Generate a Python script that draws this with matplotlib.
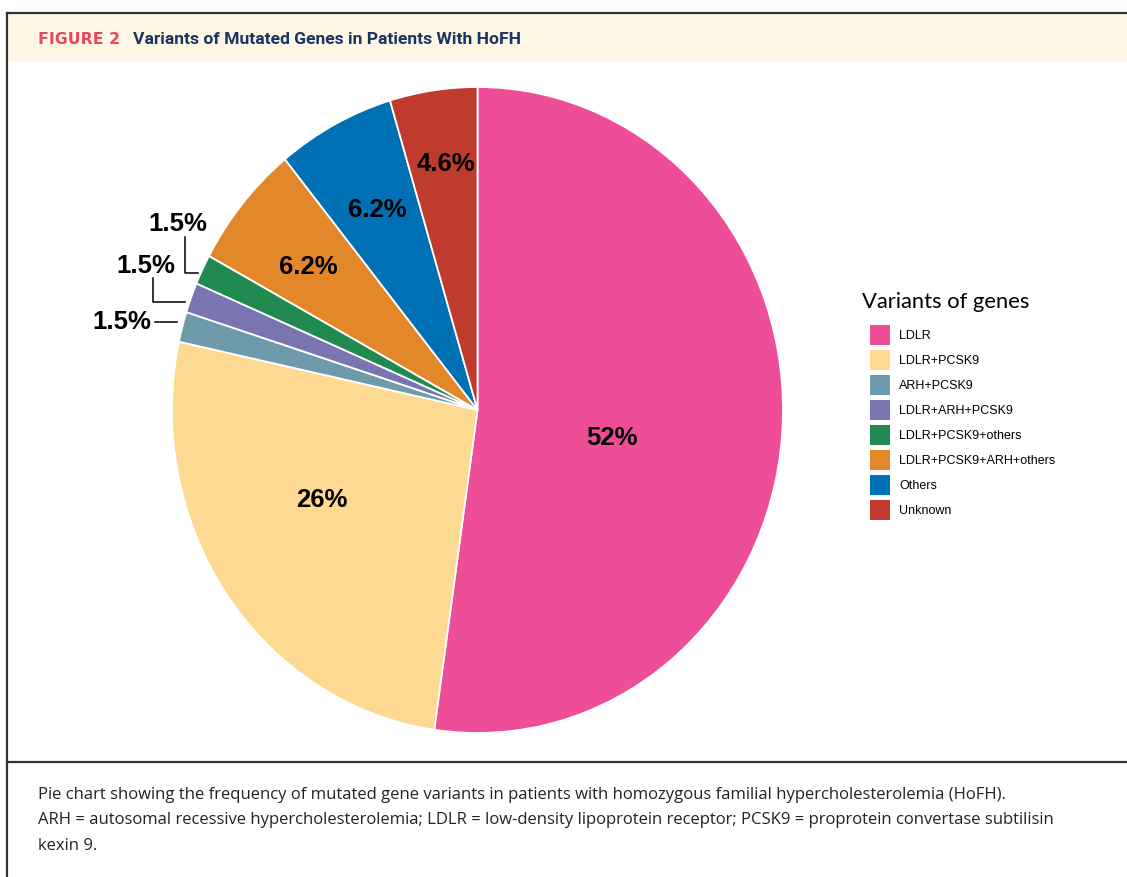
import matplotlib
matplotlib.use('Agg')
import matplotlib.pyplot as plt
from matplotlib.patches import Patch, Rectangle
import numpy as np

W, H = 1127, 877

genes = ['LDLR', 'LDLR+PCSK9', 'ARH+PCSK9', 'LDLR+ARH+PCSK9',
         'LDLR+PCSK9+others', 'LDLR+PCSK9+ARH+others', 'Others', 'Unknown']
percent = [52, 26, 1.5, 1.5, 1.5, 6.2, 6.2, 4.6]
pct_labels = ['52%', '26%', '1.5%', '1.5%', '1.5%', '6.2%', '6.2%', '4.6%']
colors = ['#EE4D97', '#FED992', '#6F9AAA', '#7975B0',
          '#218A50', '#E2882A', '#0070B5', '#BF3B2E']

# inner label placement: fraction of radius and angle nudge (deg); None = label outside
label_r = [0.45, 0.58, None, None, None, 0.71, 0.70, 0.77]
label_shift = [-7, -6, 0, 0, 0, 1, 0, -0.6]

caption = ['Pie chart showing the frequency of mutated gene variants in patients with homozygous familial hypercholesterolemia (HoFH).',
           'ARH = autosomal recessive hypercholesterolemia; LDLR = low-density lipoprotein receptor; PCSK9 = proprotein convertase subtilisin',
           'kexin 9.']

fig = plt.figure(figsize=(W / 100, H / 100), dpi=100)

# overlay in pixel coords for frame, header, caption
ov = fig.add_axes([0, 0, 1, 1])
ov.set_xlim(0, W)
ov.set_ylim(H, 0)
ov.axis('off')

ov.add_patch(Rectangle((8, 14), W, 47, facecolor='#FEF7E6', edgecolor='none'))
ov.plot([7, W], [13, 13], color='#333333', lw=1.6)
ov.plot([7, 7], [13, H], color='#333333', lw=1.6)
ov.plot([7, W], [762, 762], color='#333333', lw=1.6)

ov.text(38, 40, 'FIGURE 2', color='#E8475A', fontsize=11.3, fontweight='bold',
        family='DejaVu Sans', va='center', ha='left')
ov.text(133, 40, 'Variants of Mutated Genes in Patients With HoFH', color='#1A3564',
        fontsize=12.6, fontweight='bold', family='Roboto', va='center', ha='left')

for i, line in enumerate(caption):
    ov.text(38, 795 + i * 25.5, line, fontsize=12, family='Open Sans', color='#222222',
            va='center', ha='left')

# small slice labels with leader lines
small_pos = [(178, 224), (146, 266), (122, 322)]
ov.text(*small_pos[0], pct_labels[4], fontsize=18.5, fontweight='bold', family='Liberation Sans',
        ha='center', va='center')
ov.text(*small_pos[1], pct_labels[3], fontsize=18.5, fontweight='bold', family='Liberation Sans',
        ha='center', va='center')
ov.text(*small_pos[2], pct_labels[2], fontsize=18.5, fontweight='bold', family='Liberation Sans',
        ha='center', va='center')
ov.plot([185, 185, 198], [237, 273, 273], color='black', lw=1.1)
ov.plot([153, 153, 185], [278, 302, 302], color='black', lw=1.1)
ov.plot([155, 177], [322, 322], color='black', lw=1.1)

# pie
ax = fig.add_axes([172 / W, (H - 733) / H, 611 / W, 646 / H])
wedges, _ = ax.pie(percent, colors=colors, startangle=90, counterclock=False,
                   wedgeprops=dict(edgecolor='white', linewidth=1.3))
ax.set_xlim(-1, 1)
ax.set_ylim(-1, 1)
ax.set_aspect('auto')
ax.axis('off')

for w, lab, r, sh in zip(wedges, pct_labels, label_r, label_shift):
    if r is None:
        continue
    ang = np.deg2rad((w.theta1 + w.theta2) / 2 + sh)
    ax.text(r * np.cos(ang), r * np.sin(ang), lab, fontsize=18.5, fontweight='bold',
            family='Liberation Sans', ha='center', va='center')

# legend
handles = [Patch(facecolor=c, edgecolor='none') for c in colors]
fig.legend(handles, genes, loc='upper left', bbox_to_anchor=(870 / W, 1 - 325 / H),
           frameon=False, prop={'family': 'Liberation Sans', 'size': 9},
           handlelength=1.6, handleheight=2.085, labelspacing=0.4, handletextpad=0.72,
           borderpad=0, borderaxespad=0)
fig.text(862 / W, 1 - 302 / H, 'Variants of genes', fontsize=15.8, family='Lato',
         ha='left', va='center')

fig.savefig('out.png', dpi=100)
